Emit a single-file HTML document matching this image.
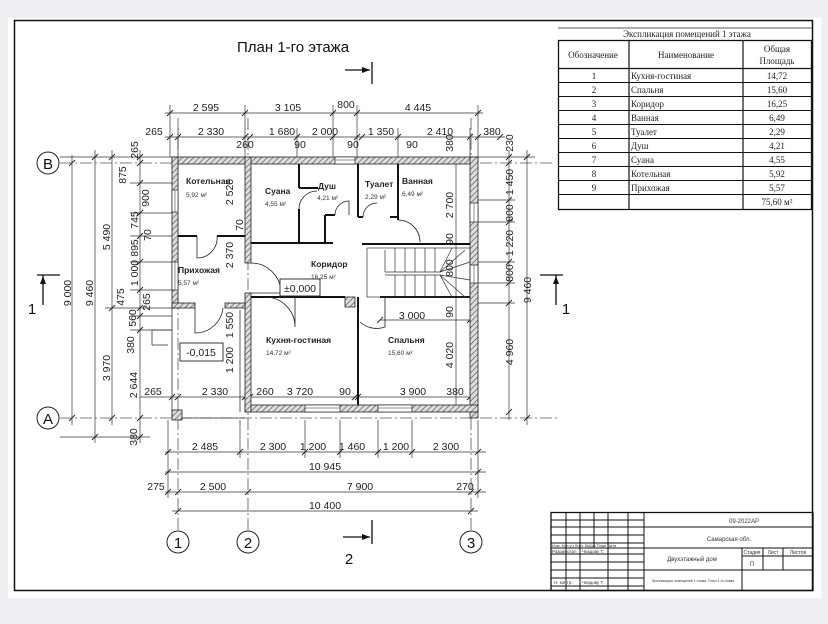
<!DOCTYPE html>
<html><head><meta charset="utf-8"><style>
html,body{margin:0;padding:0;background:#efeff3;}
svg{display:block;font-family:"Liberation Sans",sans-serif;}
.d{font-size:10.5px;fill:#222;}
.s{font-size:6px;fill:#333;}
.r{font-size:8.5px;font-weight:bold;fill:#222;}
.a{font-size:6.5px;fill:#333;}
.tt{font-family:"Liberation Serif",serif;font-size:9px;fill:#222;}
</style></head><body>
<svg width="828" height="624" viewBox="0 0 828 624" xmlns="http://www.w3.org/2000/svg">
<defs>
<pattern id="h" width="4" height="4" patternUnits="userSpaceOnUse" patternTransform="rotate(45)">
<rect width="4" height="4" fill="#ddd"/><line x1="0" y1="0" x2="0" y2="4" stroke="#444" stroke-width="1.2"/></pattern>
<g id="t"><line x1="-3" y1="3" x2="3" y2="-3" stroke="#222" stroke-width="0.9"/></g>
</defs>
<rect x="0" y="0" width="828" height="624" fill="#efeff3"/>
<rect x="8" y="18" width="813" height="580" fill="#fff"/>
<rect x="14.5" y="20.5" width="798" height="570" fill="none" stroke="#111" stroke-width="1.5"/>

<text x="237" y="52" font-size="15" fill="#111">План 1-го этажа</text>

<!-- axis lines -->
<g stroke="#555" stroke-width="0.8" stroke-dasharray="12,3,2,3" fill="none">
<line x1="60" y1="163" x2="555" y2="163"/><line x1="60" y1="418" x2="560" y2="418"/>
<line x1="178" y1="118" x2="178" y2="530"/><line x1="248" y1="118" x2="248" y2="530"/><line x1="471" y1="118" x2="471" y2="530"/>
</g>
<g fill="#fff" stroke="#222" stroke-width="1">
<circle cx="48" cy="163" r="11"/><circle cx="48" cy="418" r="11"/>
<circle cx="178" cy="542" r="11"/><circle cx="248" cy="542" r="11"/><circle cx="471" cy="542" r="11"/>
</g>
<g font-size="15" fill="#111" text-anchor="middle">
<text x="48" y="169">B</text><text x="48" y="424">A</text>
<text x="178" y="548">1</text><text x="248" y="548">2</text><text x="471" y="548">3</text>
<text x="32" y="314">1</text><text x="566" y="314">1</text><text x="349" y="564">2</text>
</g>
<!-- section markers -->
<g stroke="#111" stroke-width="1.3">
<line x1="372" y1="62" x2="372" y2="84"/><line x1="345" y1="70" x2="370" y2="70"/>
<line x1="372" y1="520" x2="372" y2="544"/><line x1="343" y1="537" x2="370" y2="537"/>
<line x1="37" y1="275" x2="60" y2="275"/><line x1="43" y1="275" x2="43" y2="305"/>
<line x1="540" y1="275" x2="563" y2="275"/><line x1="556" y1="275" x2="556" y2="305"/>
</g>
<g fill="#111"><path d="M370 70 l-8 -3 v6z"/><path d="M370 537 l-8 -3 v6z"/><path d="M43 276 l-3 8 h6z"/><path d="M556 276 l-3 8 h6z"/></g>

<!-- dimension lines -->
<g stroke="#333" stroke-width="0.7" fill="none">
<line x1="165" y1="113" x2="483" y2="113"/>
<line x1="165" y1="137" x2="505" y2="137"/>
<line x1="170" y1="105" x2="170" y2="157"/><line x1="178" y1="128" x2="178" y2="157"/>
<line x1="245" y1="105" x2="245" y2="157"/><line x1="333" y1="105" x2="333" y2="157"/>
<line x1="357" y1="105" x2="357" y2="157"/><line x1="478" y1="105" x2="478" y2="157"/>
<line x1="297" y1="128" x2="297" y2="157"/><line x1="398" y1="128" x2="398" y2="157"/><line x1="470" y1="128" x2="470" y2="157"/>
<!-- left -->
<line x1="72" y1="155" x2="72" y2="425"/><line x1="95" y1="150" x2="95" y2="443"/>
<line x1="112" y1="150" x2="112" y2="425"/><line x1="140" y1="150" x2="140" y2="443"/>
<line x1="60" y1="157" x2="172" y2="157"/>
<line x1="130" y1="183" x2="172" y2="183"/><line x1="130" y1="213" x2="172" y2="213"/>
<line x1="130" y1="236" x2="172" y2="236"/><line x1="130" y1="262" x2="172" y2="262"/>
<line x1="130" y1="290" x2="172" y2="290"/><line x1="105" y1="308" x2="172" y2="308"/>
<line x1="130" y1="316" x2="172" y2="316"/><line x1="130" y1="330" x2="172" y2="330"/>
<line x1="60" y1="437" x2="150" y2="437"/>
<!-- right -->
<line x1="509" y1="150" x2="509" y2="420"/><line x1="527" y1="150" x2="527" y2="425"/>
<line x1="478" y1="157" x2="535" y2="157"/>
<line x1="478" y1="200" x2="515" y2="200"/><line x1="478" y1="222" x2="515" y2="222"/>
<line x1="478" y1="262" x2="515" y2="262"/><line x1="478" y1="283" x2="515" y2="283"/>
<line x1="478" y1="303" x2="515" y2="303"/>
<line x1="456" y1="163" x2="456" y2="412"/>
<line x1="380" y1="320" x2="470" y2="320"/>
<!-- bottom inner row -->
<line x1="140" y1="397" x2="470" y2="397"/>
<!-- bottom rows -->
<line x1="165" y1="452" x2="486" y2="452"/><line x1="165" y1="472" x2="486" y2="472"/>
<line x1="165" y1="492" x2="486" y2="492"/><line x1="172" y1="511" x2="478" y2="511"/>
<line x1="168" y1="420" x2="168" y2="498"/><line x1="240" y1="420" x2="240" y2="458"/>
<line x1="305" y1="420" x2="305" y2="458"/><line x1="340" y1="420" x2="340" y2="458"/>
<line x1="378" y1="420" x2="378" y2="458"/><line x1="412" y1="420" x2="412" y2="458"/>
<line x1="478" y1="420" x2="478" y2="498"/>
</g>
<g>
<use href="#t" x="170" y="113"/><use href="#t" x="245" y="113"/><use href="#t" x="333" y="113"/><use href="#t" x="357" y="113"/><use href="#t" x="478" y="113"/>
<use href="#t" x="170" y="137"/><use href="#t" x="178" y="137"/><use href="#t" x="245" y="137"/><use href="#t" x="250" y="137"/><use href="#t" x="297" y="137"/><use href="#t" x="333" y="137"/><use href="#t" x="357" y="137"/><use href="#t" x="362" y="137"/><use href="#t" x="398" y="137"/><use href="#t" x="470" y="137"/><use href="#t" x="478" y="137"/><use href="#t" x="500" y="137"/>
<use href="#t" x="72" y="163"/><use href="#t" x="72" y="418"/><use href="#t" x="95" y="157"/><use href="#t" x="95" y="437"/>
<use href="#t" x="112" y="157"/><use href="#t" x="112" y="308"/><use href="#t" x="112" y="418"/>
<use href="#t" x="140" y="157"/><use href="#t" x="140" y="163"/><use href="#t" x="140" y="183"/><use href="#t" x="140" y="213"/><use href="#t" x="140" y="236"/><use href="#t" x="140" y="262"/><use href="#t" x="140" y="290"/><use href="#t" x="140" y="308"/><use href="#t" x="140" y="316"/><use href="#t" x="140" y="330"/><use href="#t" x="140" y="418"/><use href="#t" x="140" y="437"/>
<use href="#t" x="509" y="157"/><use href="#t" x="509" y="163"/><use href="#t" x="509" y="200"/><use href="#t" x="509" y="222"/><use href="#t" x="509" y="262"/><use href="#t" x="509" y="283"/><use href="#t" x="509" y="303"/><use href="#t" x="509" y="412"/>
<use href="#t" x="527" y="157"/><use href="#t" x="527" y="418"/>
<use href="#t" x="168" y="452"/><use href="#t" x="240" y="452"/><use href="#t" x="305" y="452"/><use href="#t" x="340" y="452"/><use href="#t" x="378" y="452"/><use href="#t" x="412" y="452"/><use href="#t" x="478" y="452"/>
<use href="#t" x="168" y="472"/><use href="#t" x="478" y="472"/>
<use href="#t" x="168" y="492"/><use href="#t" x="178" y="492"/><use href="#t" x="248" y="492"/><use href="#t" x="471" y="492"/><use href="#t" x="478" y="492"/>
<use href="#t" x="178" y="511"/><use href="#t" x="471" y="511"/>
<use href="#t" x="172" y="397"/><use href="#t" x="178" y="397"/><use href="#t" x="245" y="397"/><use href="#t" x="250" y="397"/><use href="#t" x="355" y="397"/><use href="#t" x="358" y="397"/><use href="#t" x="470" y="397"/>
<use href="#t" x="380" y="320"/><use href="#t" x="470" y="320"/>
</g>

<!-- walls -->
<g fill="url(#h)" stroke="#222" stroke-width="0.8">
<rect x="172" y="157" width="306" height="7"/>
<rect x="172" y="157" width="6" height="151"/>
<rect x="470" y="157" width="8" height="261"/>
<rect x="245" y="405" width="233" height="7"/>
<rect x="245" y="157" width="6" height="106"/>
<rect x="245" y="293" width="6" height="119"/>
<rect x="172" y="303" width="23" height="5"/><rect x="225" y="303" width="20" height="5"/>
<rect x="172" y="410" width="10" height="10"/>
<rect x="345" y="297" width="10" height="10"/>
</g>
<!-- windows -->
<g fill="#fff" stroke="#222" stroke-width="0.7">
<rect x="172" y="190" width="6" height="22"/><rect x="172" y="262" width="6" height="28"/>
<rect x="470" y="203" width="8" height="19"/><rect x="470" y="265" width="8" height="18"/>
<rect x="335" y="157" width="20" height="7"/>
<rect x="305" y="405" width="35" height="7"/><rect x="378" y="405" width="34" height="7"/>
</g>
<g stroke="#222" stroke-width="0.5"><line x1="175" y1="190" x2="175" y2="212"/><line x1="175" y1="262" x2="175" y2="290"/><line x1="474" y1="203" x2="474" y2="222"/><line x1="474" y1="265" x2="474" y2="283"/><line x1="335" y1="160" x2="355" y2="160"/><line x1="305" y1="408" x2="340" y2="408"/><line x1="378" y1="408" x2="412" y2="408"/></g>
<!-- porch -->
<g stroke="#333" stroke-width="0.8" fill="none">
<line x1="172" y1="308" x2="172" y2="418"/><line x1="182" y1="418" x2="245" y2="418"/>
<line x1="152" y1="330" x2="172" y2="330"/><line x1="152" y1="345" x2="168" y2="345"/><line x1="152" y1="330" x2="152" y2="345"/>
<line x1="240" y1="310" x2="240" y2="412"/>
</g>
<!-- interior walls -->
<g stroke="#111" stroke-width="2" fill="none">
<line x1="178" y1="236" x2="197" y2="236"/><line x1="217" y1="236" x2="245" y2="236"/>
<line x1="251" y1="243" x2="333" y2="243"/>
<line x1="299" y1="164" x2="299" y2="188"/><line x1="299" y1="188" x2="318" y2="188"/><line x1="299" y1="209" x2="299" y2="243"/>
<line x1="325" y1="215" x2="325" y2="243"/><line x1="325" y1="215" x2="335" y2="215"/>
<line x1="358" y1="164" x2="358" y2="217"/><line x1="358" y1="217" x2="363" y2="217"/>
<line x1="398" y1="164" x2="398" y2="220"/><line x1="390" y1="217" x2="398" y2="217"/>
<line x1="362" y1="244" x2="470" y2="244"/>
<line x1="251" y1="297" x2="345" y2="297"/>
<line x1="358" y1="297" x2="358" y2="405"/>
<line x1="380" y1="297" x2="470" y2="297"/>
</g>
<!-- doors -->
<g stroke="#222" stroke-width="0.8" fill="none">
<path d="M197 236 v22 a20 20 0 0 0 20 -22"/>
<path d="M299 209 a18 18 0 0 1 18 -18"/>
<path d="M335 215 a14 14 0 0 1 14 -14 v14"/>
<path d="M363 217 a14 14 0 0 1 14 -14"/>
<path d="M398 220 a22 22 0 0 1 22 22"/>
<path d="M251 263 a30 30 0 0 1 30 30 h-30"/>
<path d="M195 308 v25 a28 28 0 0 0 28 -25"/>
<path d="M295 297 v30 a30 30 0 0 0 -30 -30"/>
<path d="M385 297 v30 a25 25 0 0 1 -25 -5"/>
</g>
<!-- stairs -->
<g stroke="#333" stroke-width="0.7" fill="none">
<rect x="367" y="248" width="103" height="49"/>
<line x1="385" y1="272" x2="440" y2="272"/><line x1="385" y1="275" x2="440" y2="275"/>
<line x1="385" y1="250" x2="385" y2="272"/>
<line x1="395" y1="248" x2="395" y2="272"/><line x1="405" y1="248" x2="405" y2="272"/><line x1="415" y1="248" x2="415" y2="272"/><line x1="425" y1="248" x2="425" y2="272"/><line x1="435" y1="248" x2="435" y2="272"/>
<line x1="395" y1="275" x2="395" y2="297"/><line x1="405" y1="275" x2="405" y2="297"/><line x1="415" y1="275" x2="415" y2="297"/><line x1="425" y1="275" x2="425" y2="297"/><line x1="435" y1="275" x2="435" y2="297"/>
<line x1="440" y1="272" x2="452" y2="248"/><line x1="440" y1="272" x2="465" y2="250"/><line x1="440" y1="272" x2="470" y2="262"/>
<line x1="440" y1="275" x2="470" y2="280"/><line x1="440" y1="275" x2="465" y2="297"/><line x1="440" y1="275" x2="452" y2="297"/>
</g>

<!-- level boxes -->
<rect x="280" y="279" width="40" height="17" fill="#fff" stroke="#222" stroke-width="0.9"/>
<text x="300" y="292" class="d" text-anchor="middle" font-size="11">±0,000</text>
<rect x="180" y="343" width="43" height="18" fill="#fff" stroke="#222" stroke-width="0.9"/>
<text x="201" y="356" class="d" text-anchor="middle" font-size="11">-0,015</text>

<!-- room labels -->
<text class="r" x="186" y="184">Котельная</text><text class="a" x="186" y="197">5,92 м²</text>
<text class="r" x="265" y="194">Суана</text><text class="a" x="265" y="206">4,55 м²</text>
<text class="r" x="318" y="189">Душ</text><text class="a" x="317" y="200">4,21 м²</text>
<text class="r" x="365" y="187">Туалет</text><text class="a" x="365" y="199">2,29 м²</text>
<text class="r" x="402" y="184">Ванная</text><text class="a" x="402" y="196">6,49 м²</text>
<text class="r" x="311" y="267">Коридор</text><text class="a" x="311" y="279">16,25 м²</text>
<text class="r" x="178" y="273">Прихожая</text><text class="a" x="178" y="285">5,57 м²</text>
<text class="r" x="266" y="343">Кухня-гостиная</text><text class="a" x="266" y="355">14,72 м²</text>
<text class="r" x="388" y="343">Спальня</text><text class="a" x="388" y="355">15,60 м²</text>

<!-- dim text horizontal -->
<g class="d" text-anchor="middle">
<text x="206" y="111">2 595</text><text x="288" y="111">3 105</text><text x="346" y="108">800</text><text x="418" y="111">4 445</text>
<text x="154" y="135">265</text><text x="211" y="135">2 330</text><text x="282" y="135">1 680</text><text x="325" y="135">2 000</text><text x="381" y="135">1 350</text><text x="440" y="135">2 410</text><text x="492" y="135">380</text>
<text x="245" y="148">260</text><text x="300" y="148">90</text><text x="353" y="148">90</text><text x="412" y="148">90</text>
<text x="153" y="395">265</text><text x="215" y="395">2 330</text><text x="265" y="395">260</text><text x="300" y="395">3 720</text><text x="345" y="395">90</text><text x="413" y="395">3 900</text><text x="455" y="395">380</text>
<text x="412" y="319">3 000</text>
<text x="205" y="450">2 485</text><text x="273" y="450">2 300</text><text x="313" y="450">1 200</text><text x="352" y="450">1 460</text><text x="396" y="450">1 200</text><text x="446" y="450">2 300</text>
<text x="325" y="470">10 945</text>
<text x="156" y="490">275</text><text x="213" y="490">2 500</text><text x="360" y="490">7 900</text><text x="465" y="490">270</text>
<text x="325" y="509">10 400</text>
</g>
<!-- vertical dim text -->
<g class="d" text-anchor="middle">
<text transform="translate(71,293) rotate(-90)">9 000</text>
<text transform="translate(93,293) rotate(-90)">9 460</text>
<text transform="translate(110,237) rotate(-90)">5 490</text>
<text transform="translate(110,368) rotate(-90)">3 970</text>
<text transform="translate(138,150) rotate(-90)">265</text>
<text transform="translate(126,175) rotate(-90)">875</text>
<text transform="translate(149,198) rotate(-90)">900</text>
<text transform="translate(138,220) rotate(-90)">745</text>
<text transform="translate(151,235) rotate(-90)">70</text>
<text transform="translate(138,248) rotate(-90)">895</text>
<text transform="translate(138,273) rotate(-90)">1 000</text>
<text transform="translate(124,297) rotate(-90)">475</text>
<text transform="translate(150,302) rotate(-90)">265</text>
<text transform="translate(136,318) rotate(-90)">560</text>
<text transform="translate(134,345) rotate(-90)">380</text>
<text transform="translate(137,385) rotate(-90)">2 644</text>
<text transform="translate(137,437) rotate(-90)">380</text>
<text transform="translate(233,192) rotate(-90)">2 520</text>
<text transform="translate(243,225) rotate(-90)">70</text>
<text transform="translate(233,255) rotate(-90)">2 370</text>
<text transform="translate(233,325) rotate(-90)">1 550</text>
<text transform="translate(233,360) rotate(-90)">1 200</text>
<text transform="translate(453,205) rotate(-90)">2 700</text>
<text transform="translate(453,239) rotate(-90)">90</text>
<text transform="translate(453,268) rotate(-90)">800</text>
<text transform="translate(453,312) rotate(-90)">90</text>
<text transform="translate(453,355) rotate(-90)">4 020</text>
<text transform="translate(453,143) rotate(-90)">380</text>
<text transform="translate(513,143) rotate(-90)">230</text>
<text transform="translate(513,182) rotate(-90)">1 450</text>
<text transform="translate(513,213) rotate(-90)">800</text>
<text transform="translate(513,243) rotate(-90)">1 220</text>
<text transform="translate(513,273) rotate(-90)">800</text>
<text transform="translate(513,352) rotate(-90)">4 960</text>
<text transform="translate(531,290) rotate(-90)">9 460</text>
</g>

<!-- explication table -->
<line x1="558" y1="28" x2="813" y2="28" stroke="#222" stroke-width="0.8"/>
<text x="687" y="37" class="tt" text-anchor="middle">Экспликация помещений 1 этажа</text>
<g stroke="#111" fill="none">
<rect x="558.5" y="40.5" width="253" height="169" stroke-width="1.3"/>
<line x1="629" y1="40" x2="629" y2="210" stroke-width="1.2"/><line x1="743" y1="40" x2="743" y2="210" stroke-width="1.2"/>
<line x1="558" y1="68.5" x2="812" y2="68.5" stroke-width="1.3"/>
<g stroke-width="0.9">
<line x1="558" y1="82.5" x2="812" y2="82.5"/><line x1="558" y1="96.5" x2="812" y2="96.5"/><line x1="558" y1="110.5" x2="812" y2="110.5"/>
<line x1="558" y1="124.5" x2="812" y2="124.5"/><line x1="558" y1="138.5" x2="812" y2="138.5"/><line x1="558" y1="152.5" x2="812" y2="152.5"/>
<line x1="558" y1="166.5" x2="812" y2="166.5"/><line x1="558" y1="180.5" x2="812" y2="180.5"/><line x1="558" y1="194.5" x2="812" y2="194.5"/>
</g></g>
<g class="tt">
<text x="593" y="58" text-anchor="middle">Обозначение</text>
<text x="686" y="58" text-anchor="middle">Наименование</text>
<text x="777" y="52" text-anchor="middle">Общая</text><text x="777" y="64" text-anchor="middle">Площадь</text>
<g text-anchor="middle">
<text x="594" y="79">1</text><text x="594" y="93">2</text><text x="594" y="107">3</text><text x="594" y="121">4</text><text x="594" y="135">5</text><text x="594" y="149">6</text><text x="594" y="163">7</text><text x="594" y="177">8</text><text x="594" y="191">9</text>
<text x="777" y="79">14,72</text><text x="777" y="93">15,60</text><text x="777" y="107">16,25</text><text x="777" y="121">6,49</text><text x="777" y="135">2,29</text><text x="777" y="149">4,21</text><text x="777" y="163">4,55</text><text x="777" y="177">5,92</text><text x="777" y="191">5,57</text><text x="777" y="205">75,60 м²</text>
</g>
<text x="631" y="79">Кухня-гостиная</text><text x="631" y="93">Спальня</text><text x="631" y="107">Коридор</text><text x="631" y="121">Ванная</text><text x="631" y="135">Туалет</text><text x="631" y="149">Душ</text><text x="631" y="163">Суана</text><text x="631" y="177">Котельная</text><text x="631" y="191">Прихожая</text>
</g>

<!-- title block -->
<g stroke="#111" fill="none">
<rect x="551" y="512.5" width="262" height="78" stroke-width="1.3"/>
<g stroke-width="1">
<line x1="566" y1="512" x2="566" y2="590"/><line x1="580" y1="512" x2="580" y2="590"/><line x1="594" y1="512" x2="594" y2="548"/><line x1="608" y1="512" x2="608" y2="590"/><line x1="628" y1="512" x2="628" y2="590"/><line x1="644" y1="512" x2="644" y2="590"/>
<line x1="551" y1="520" x2="644" y2="520"/><line x1="551" y1="527" x2="644" y2="527"/><line x1="551" y1="535" x2="644" y2="535"/><line x1="551" y1="543" x2="644" y2="543"/><line x1="551" y1="548" x2="644" y2="548"/>
<line x1="551" y1="554" x2="644" y2="554"/><line x1="551" y1="562" x2="644" y2="562"/><line x1="551" y1="570" x2="644" y2="570"/><line x1="551" y1="578" x2="644" y2="578"/><line x1="551" y1="586" x2="644" y2="586"/>
<line x1="644" y1="527" x2="813" y2="527"/><line x1="644" y1="548" x2="813" y2="548"/><line x1="644" y1="570" x2="813" y2="570"/>
<line x1="742" y1="548" x2="742" y2="590"/><line x1="763" y1="548" x2="763" y2="570"/><line x1="783" y1="548" x2="783" y2="570"/>
<line x1="742" y1="556" x2="813" y2="556"/>
</g></g>
<g class="s">
<text x="744" y="523" text-anchor="middle">09-2022АР</text>
<text x="729" y="541" text-anchor="middle">Самарская обл.</text>
<text x="692" y="561" text-anchor="middle">Двухэтажный дом</text>
<text x="752" y="554" text-anchor="middle" font-size="5">Стадия</text><text x="773" y="554" text-anchor="middle" font-size="5">Лист</text><text x="798" y="554" text-anchor="middle" font-size="5">Листов</text>
<text x="752" y="566" text-anchor="middle">П</text>
<text x="693" y="582" text-anchor="middle" font-size="3.5">Экспликация помещений 1 этажа. План 1-го этажа</text>
<text x="552" y="547" font-size="4">Изм. Кол.уч Лист №Док Подп Дата</text>
<text x="552" y="553" font-size="4.5">Разработал</text><text x="582" y="553" font-size="4.5">Чкадову Т.</text>
<text x="554" y="584" font-size="4.5">Н. контр.</text><text x="582" y="584" font-size="4.5">Чкадову Т.</text>
</g>
</svg>
</body></html>
